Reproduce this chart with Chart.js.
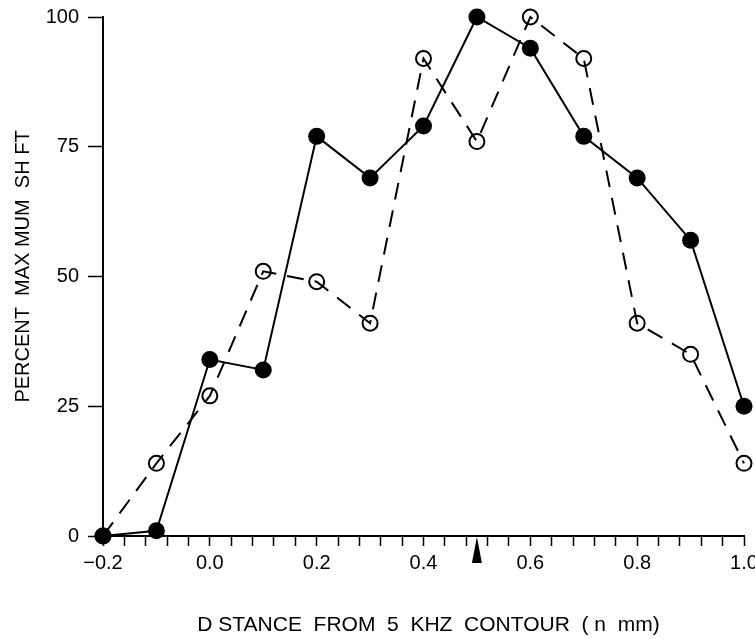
<!DOCTYPE html>
<html>
<head>
<meta charset="utf-8">
<script src="https://cdn.jsdelivr.net/npm/chart.js@4/dist/chart.umd.min.js"></script>
<style>
  html, body { margin: 0; padding: 0; background: #fff; }
  #wrap { width: 755px; height: 639px; }
</style>
</head>
<body>
<div id="wrap"><canvas id="c" width="755" height="639"></canvas></div>
<script>
// Distance from the 5 kHz contour (mm)
const distances = [-0.2, -0.1, 0.0, 0.1, 0.2, 0.3, 0.4, 0.5, 0.6, 0.7, 0.8, 0.9, 1.0];

// Percent of maximum shift, filled-circle series (solid line)
const shiftFilled = [0, 1, 34, 32, 77, 69, 79, 100, 94, 77, 69, 57, 25];

// Percent of maximum shift, open-circle series (dashed line)
const shiftOpen = [0, 14, 27, 51, 49, 41, 92, 76, 100, 92, 41, 35, 14];

// Labelled ticks on the distance axis
const xTickValues = [-0.2, 0.0, 0.2, 0.4, 0.6, 0.8, 1.0];
const xTickLabels = ['\u22120.2', '0.0', '0.2', '0.4', '0.6', '0.8', '1.0'];
const xMinorStep = 0.04;

// Ticks on the percent axis
const yTickValues = [0, 25, 50, 75, 100];

// Position of the marker arrow on the distance axis
const arrowAt = 0.5;

const xTitle = 'D STANCE  FROM  5  KHZ  CONTOUR  ( n  mm)';
const yTitle = 'PERCENT  MAX MUM  SH FT';

const toPoints = ys => distances.map((x, i) => ({ x: x, y: ys[i] }));

const FONT = '"Liberation Sans", Arial, Helvetica, sans-serif';

// Arrowhead under the x axis and the two axis titles
const decorPlugin = {
  id: 'decor',
  afterDraw(chart) {
    const xs = chart.scales.x, ys = chart.scales.y;
    const area = chart.chartArea;
    const ctx = chart.ctx;
    const px = xs.getPixelForValue(arrowAt);
    const py = ys.getPixelForValue(0);
    ctx.save();
    ctx.fillStyle = '#000';
    ctx.beginPath();
    ctx.moveTo(px, py + 1);
    ctx.lineTo(px - 5, py + 27);
    ctx.lineTo(px + 5, py + 27);
    ctx.closePath();
    ctx.fill();

    ctx.textAlign = 'center';
    ctx.textBaseline = 'middle';
    ctx.font = '21px ' + FONT;
    ctx.fillText(xTitle, (area.left + area.right) / 2 + 5, chart.height - 14);

    ctx.font = '20px ' + FONT;
    ctx.translate(23, (area.top + area.bottom) / 2 - 10);
    ctx.rotate(-Math.PI / 2);
    ctx.fillText(yTitle, 0, 0);
    ctx.restore();
  }
};

new Chart(document.getElementById('c'), {
  type: 'scatter',
  data: {
    datasets: [
      {
        label: 'filled',
        data: toPoints(shiftFilled),
        showLine: true,
        borderColor: '#000',
        borderWidth: 2,
        pointStyle: 'circle',
        pointRadius: 8.5,
        pointHoverRadius: 8.5,
        pointBackgroundColor: '#000',
        pointBorderColor: '#000',
        pointBorderWidth: 0,
        clip: false
      },
      {
        label: 'open',
        data: toPoints(shiftOpen),
        showLine: true,
        borderColor: '#000',
        borderWidth: 2,
        borderDash: [17, 11],
        pointStyle: 'circle',
        pointRadius: 7.5,
        pointHoverRadius: 7.5,
        pointBackgroundColor: 'rgba(0,0,0,0)',
        pointBorderColor: '#000',
        pointBorderWidth: 2,
        clip: false
      }
    ]
  },
  options: {
    responsive: false,
    animation: false,
    devicePixelRatio: 1,
    events: [],
    layout: { padding: { top: 17, right: 11, left: 0, bottom: 0 } },
    plugins: {
      legend: { display: false },
      tooltip: { enabled: false }
    },
    scales: {
      x: {
        type: 'linear',
        min: -0.2,
        max: 1.0,
        afterBuildTicks(scale) {
          const n = Math.round((scale.max - scale.min) / xMinorStep);
          const t = [];
          for (let k = 0; k <= n; k++) t.push({ value: +(scale.min + k * xMinorStep).toFixed(4) });
          scale.ticks = t;
        },
        afterFit(scale) {
          scale.height = 103;
          scale.paddingLeft = 0;
          scale.paddingRight = 0;
        },
        ticks: {
          autoSkip: false,
          maxRotation: 0,
          minRotation: 0,
          padding: 5,
          color: '#000',
          font: { family: FONT, size: 20 },
          callback(value) {
            const i = xTickValues.findIndex(v => Math.abs(v - value) < 1e-6);
            return i >= 0 ? xTickLabels[i] : '';
          }
        },
        grid: {
          display: true,
          drawOnChartArea: false,
          drawTicks: true,
          tickLength: 10,
          tickColor: '#000',
          tickWidth: 1.5
        },
        border: { display: true, color: '#000', width: 2 },
        title: { display: false }
      },
      y: {
        type: 'linear',
        min: 0,
        max: 100,
        afterBuildTicks(scale) {
          scale.ticks = yTickValues.map(v => ({ value: v }));
        },
        afterFit(scale) {
          scale.width = 103;
          scale.paddingTop = 0;
          scale.paddingBottom = 0;
        },
        ticks: {
          padding: 9,
          color: '#000',
          font: { family: FONT, size: 20 }
        },
        grid: {
          display: true,
          drawOnChartArea: false,
          drawTicks: true,
          tickLength: 15,
          tickColor: '#000',
          tickWidth: 1.5
        },
        border: { display: true, color: '#000', width: 2 },
        title: { display: false }
      }
    }
  },
  plugins: [decorPlugin]
});
</script>
</body>
</html>
